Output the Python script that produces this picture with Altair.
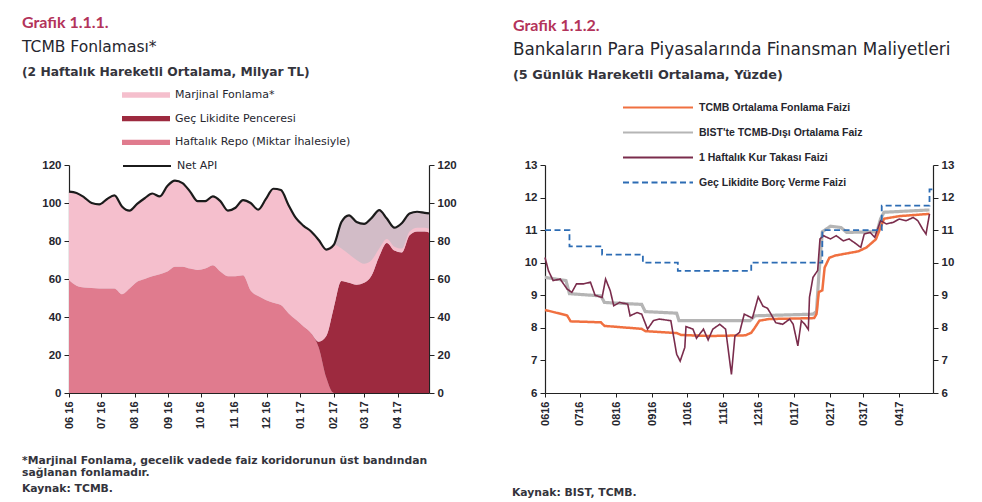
import altair as alt
import pandas as pd

AXFONT = "Liberation Sans"
TXFONT = "DejaVu Sans"
TITLEFONT = "Lato"
INK = "#26262e"
SOFT = "#34343c"
CRIMSON = "#b3335a"

# ---------------- Grafik 1.1.1 ----------------
MARJ = "Marjinal Fonlama*"
GEC = "Geç Likidite Penceresi"
REPO = "Haftalık Repo (Miktar İhalesiyle)"
NET = "Net API"

left_dates = [
    "2016-06-01", "2016-06-08", "2016-06-15", "2016-06-22", "2016-06-29",
    "2016-07-06", "2016-07-13", "2016-07-20", "2016-07-27",
    "2016-08-03", "2016-08-10", "2016-08-17", "2016-08-24", "2016-08-31",
    "2016-09-07", "2016-09-14", "2016-09-21", "2016-09-28",
    "2016-10-05", "2016-10-12", "2016-10-19", "2016-10-26",
    "2016-11-02", "2016-11-09", "2016-11-16", "2016-11-23", "2016-11-30",
    "2016-12-07", "2016-12-14", "2016-12-21", "2016-12-28",
    "2017-01-04", "2017-01-11", "2017-01-18", "2017-01-25",
    "2017-02-01", "2017-02-08", "2017-02-15", "2017-02-22",
    "2017-03-01", "2017-03-08", "2017-03-15", "2017-03-22", "2017-03-29",
    "2017-04-05", "2017-04-12", "2017-04-19", "2017-04-26", "2017-04-30",
]
net_api = [106, 105.3, 103, 100, 99.3, 102, 104, 98.2, 96, 99.5, 102.5, 105, 103.5,
           109, 111.8, 110.5, 106, 101, 101, 103.5, 101, 96, 97.5, 101.5, 100, 96.5,
           102, 107.5, 106.8, 99, 92, 88, 85, 80.5, 75.5, 78, 90, 93.5, 90, 89, 92.2,
           96.2, 91.8, 87, 89.5, 94.5, 95.4, 94.8, 94.5]
repo = [59.5, 56.5, 55.5, 55.2, 55, 55, 55, 52, 55, 58.5, 60, 61.5, 62.5, 64, 66.5,
        66.5, 65.5, 64.8, 65.5, 67.3, 64, 61.5, 61.5, 62, 54, 51, 49, 47.5, 46.3, 42,
        38.5, 35, 31.5, 24, 8, 0, 0, 0, 0, 0, 0, 0, 0, 0, 0, 0, 0, 0, 0]
gec = [0, 0, 0, 0, 0, 0, 0, 0, 0, 0, 0, 0, 0, 0, 0, 0, 0, 0, 0, 0, 0, 0, 0, 0, 0, 0,
       0, 0, 0, 0, 0, 0, 0, 3, 22, 45, 59, 58, 57, 58, 62, 72, 79, 75, 74, 83, 85, 85, 84.5]
marj = [46.5, 48.8, 47.5, 44.8, 44.3, 47, 49, 46.2, 41, 41, 42.5, 43.5, 41, 45, 45.3,
        44, 40.5, 36.2, 35.5, 36.2, 37, 34.5, 36, 39.5, 46, 45.5, 53, 60, 60.5, 57,
        53.5, 53, 53.5, 53.5, 45.5, 33, 17, 15, 13, 10, 8, 4, 2, 2, 2, 2, 2, 2, 2]

area_names = [MARJ, GEC, REPO]
area_colors = ["#f5bfcd", "#9d2a3f", "#e07b8e"]
stack_rank = {REPO: 0, GEC: 1, MARJ: 2}

area_rows = []
for name, vals in [(REPO, repo), (GEC, gec), (MARJ, marj)]:
    for d, v in zip(left_dates, vals):
        area_rows.append({"date": d, "series": name, "value": v, "rank": stack_rank[name]})
area_df = pd.DataFrame(area_rows)
net_df = pd.DataFrame({"date": left_dates, "value": net_api, "series": NET})

# ---------------- Grafik 1.1.2 ----------------
TCMB = "TCMB Ortalama Fonlama Faizi"
BIST = "BIST'te TCMB-Dışı Ortalama Faiz"
SWAP = "1 Haftalık Kur Takası Faizi"
LLW = "Geç Likidite Borç Verme Faizi"

tcmb_dates = ["2016-06-01", "2016-06-10", "2016-06-20", "2016-06-23", "2016-07-19",
              "2016-07-22", "2016-08-23", "2016-08-26", "2016-09-22", "2016-09-26",
              "2016-10-20", "2016-11-20", "2016-11-25", "2016-11-28", "2016-12-02",
              "2016-12-10", "2017-01-18", "2017-01-20", "2017-01-22", "2017-01-25",
              "2017-01-27", "2017-01-31", "2017-02-05", "2017-02-25", "2017-03-04",
              "2017-03-12", "2017-03-16", "2017-03-19", "2017-04-01", "2017-04-27"]
tcmb_vals = [8.55, 8.47, 8.38, 8.2, 8.17, 8.06, 7.97, 7.9, 7.84, 7.78, 7.75, 7.77,
             7.85, 8.0, 8.22, 8.27, 8.3, 8.42, 9.1, 9.15, 9.85, 10.15, 10.22, 10.35,
             10.47, 10.72, 11.08, 11.35, 11.43, 11.5]

bist_dates = ["2016-06-01", "2016-06-19", "2016-06-22", "2016-07-19", "2016-07-22",
              "2016-08-23", "2016-08-26", "2016-09-22", "2016-09-24", "2016-11-24",
              "2016-11-28", "2017-01-17", "2017-01-20", "2017-01-22", "2017-01-25",
              "2017-02-01", "2017-02-10", "2017-02-15", "2017-03-13", "2017-03-16",
              "2017-03-19", "2017-04-27"]
bist_vals = [9.55, 9.45, 9.05, 8.98, 8.78, 8.72, 8.5, 8.45, 8.22, 8.22, 8.37, 8.42,
             8.5, 9.6, 10.95, 11.12, 11.08, 10.93, 10.95, 11.35, 11.55, 11.62]

swap_dates = ["2016-06-01", "2016-06-04", "2016-06-08", "2016-06-14", "2016-06-20",
              "2016-06-24", "2016-06-28", "2016-07-04", "2016-07-10", "2016-07-14",
              "2016-07-20", "2016-07-23", "2016-07-27", "2016-07-30", "2016-08-04",
              "2016-08-11", "2016-08-13", "2016-08-19", "2016-08-23", "2016-08-28",
              "2016-09-02", "2016-09-07", "2016-09-17", "2016-09-22", "2016-09-25",
              "2016-09-29", "2016-09-30", "2016-10-06", "2016-10-09", "2016-10-15",
              "2016-10-19", "2016-10-23", "2016-10-29", "2016-11-03", "2016-11-08",
              "2016-11-11", "2016-11-15", "2016-11-19", "2016-11-26", "2016-12-01",
              "2016-12-05", "2016-12-09", "2016-12-12", "2016-12-16", "2016-12-22",
              "2016-12-28", "2016-12-31", "2017-01-04", "2017-01-07", "2017-01-10",
              "2017-01-13", "2017-01-14", "2017-01-17", "2017-01-21", "2017-01-23",
              "2017-01-26", "2017-02-01", "2017-02-06", "2017-02-12", "2017-02-17",
              "2017-02-23", "2017-02-27", "2017-03-02", "2017-03-07", "2017-03-11",
              "2017-03-16", "2017-03-21", "2017-03-27", "2017-04-01", "2017-04-07",
              "2017-04-13", "2017-04-17", "2017-04-21", "2017-04-24", "2017-04-27"]
swap_vals = [10.16, 9.75, 9.45, 9.5, 9.19, 9.09, 9.35, 9.35, 9.4, 9.0, 8.93, 9.5,
             9.14, 8.68, 8.78, 8.73, 8.37, 8.47, 8.42, 7.96, 8.22, 8.27, 8.22, 7.19,
             6.98, 7.4, 8.04, 7.96, 7.68, 7.96, 7.63, 7.96, 8.11, 7.96, 6.57, 7.75,
             7.86, 8.42, 8.3, 8.95, 8.67, 8.6, 8.42, 8.16, 8.11, 8.27, 8.11, 7.45,
             8.22, 8.11, 7.95, 8.94, 9.55, 9.76, 10.73, 10.83, 10.73, 10.83, 10.67,
             10.73, 10.58, 10.47, 10.88, 10.93, 10.78, 11.29, 11.19, 11.24, 11.34,
             11.29, 11.39, 11.29, 11.04, 10.88, 11.5]

llw_dates = ["2016-06-01", "2016-06-22", "2016-07-20", "2016-08-24", "2016-09-23",
             "2016-11-25", "2017-01-25", "2017-03-17", "2017-04-27", "2017-04-30"]
llw_vals = [11.0, 10.5, 10.25, 10.0, 9.75, 10.0, 11.0, 11.75, 12.25, 12.25]

R_NAMES = [TCMB, BIST, SWAP, LLW]
R_COLORS = ["#f07040", "#b5b5b5", "#7a2c4c", "#2c6cb4"]
R_WIDTHS = [2.5, 3.2, 1.6, 1.8]
R_DASH = [[1, 0], [1, 0], [1, 0], [6, 3.5]]

# ---------------- shared pieces ----------------
X_DOMAIN = [alt.DateTime(year=2016, month=6, date=1, utc=True),
            alt.DateTime(year=2017, month=4, date=30, utc=True)]


def x_enc(fmt):
    return alt.X(
        "date:T",
        scale=alt.Scale(type="utc", domain=X_DOMAIN),
        axis=alt.Axis(labelExpr="utcFormat(datum.value, '%s')" % fmt,
                      tickCount={"interval": "month", "step": 1},
                      labelAngle=270, labelAlign="right", labelBaseline="middle",
                      labelFlush=False, labelOverlap=False, labelPadding=4,
                      tickSize=4, tickColor="#222", domainColor="#222",
                      domainWidth=1.2, grid=False, title=None,
                      labelFont=AXFONT, labelFontSize=11, labelFontWeight="bold",
                      labelColor=INK),
    )


def y_axis(orient, values):
    return alt.Axis(orient=orient, values=values, title=None, grid=False,
                    tickSize=5, tickColor="#222", domainColor="#222", domainWidth=1.2,
                    labelFont=AXFONT, labelFontSize=11.5, labelFontWeight="bold",
                    labelColor=INK, labelPadding=3)


def note(text, x, y, size, font=TXFONT, weight="normal", color=INK):
    return alt.Chart(alt.Data(values=[{}])).mark_text(
        text=text, align="left", baseline="middle", font=font, fontSize=size,
        fontWeight=weight, color=color,
    ).encode(x=alt.value(x), y=alt.value(y))


# ---------------- left panel ----------------
xl = x_enc("%m %y")
ysc_l = alt.Scale(domain=[0, 120], nice=False, zero=True)
yvals_l = [0, 20, 40, 60, 80, 100, 120]

gap = alt.Chart(net_df).mark_area(color="#d2bcc7", interpolate="monotone").encode(
    x=xl, y=alt.Y("value:Q", scale=ysc_l, axis=y_axis("left", yvals_l)))

areas = alt.Chart(area_df).mark_area(interpolate="monotone").encode(
    x=xl,
    y=alt.Y("value:Q", scale=ysc_l, stack="zero", axis=None),
    fill=alt.Fill("series:N", scale=alt.Scale(domain=area_names, range=area_colors),
                  legend=alt.Legend(orient="none", legendX=53, legendY=-76, title=None,
                                    symbolType="M-1,-0.11L1,-0.11L1,0.11L-1,0.11Z",
                                    symbolSize=2304, symbolStrokeWidth=0,
                                    clipHeight=12, rowPadding=11.7, padding=0,
                                    labelFont=TXFONT, labelFontSize=11,
                                    labelColor=INK, labelOffset=5, labelLimit=400)),
    order=alt.Order("rank:Q"),
)

net_line = alt.Chart(net_df).mark_line(strokeWidth=2.2, interpolate="monotone").encode(
    x=xl,
    y=alt.Y("value:Q", scale=ysc_l, axis=y_axis("right", yvals_l)),
    stroke=alt.Stroke("series:N", scale=alt.Scale(domain=[NET], range=["#1b1b1b"]),
                      legend=alt.Legend(orient="none", legendX=53, legendY=-5, title=None,
                                        symbolType="stroke", symbolSize=2304,
                                        symbolStrokeWidth=2, clipHeight=12, padding=0,
                                        labelFont=TXFONT, labelFontSize=11,
                                        labelColor=INK, labelOffset=5, labelLimit=400)),
)

left_texts = [
    note("Grafik 1.1.1.", -47, -142, 16, font=TITLEFONT, weight="bold", color=CRIMSON),
    note("TCMB Fonlaması*", -47, -118, 15.5),
    note("(2 Haftalık Hareketli Ortalama, Milyar TL)", -47, -93, 12.3, weight="bold",
         color=SOFT),
    note("*Marjinal Fonlama, gecelik vadede faiz koridorunun üst bandından", -47, 296,
         10.8, weight="bold", color=SOFT),
    note("sağlanan fonlamadır.", -47, 308, 10.8, weight="bold", color=SOFT),
    note("Kaynak: TCMB.", -47, 324, 10.8, weight="bold", color=SOFT),
]

left = alt.layer(gap, areas, net_line, *left_texts).resolve_axis(
    y="independent").properties(width=360, height=228)

# ---------------- right panel ----------------
xr = x_enc("%m%y")
ysc_r = alt.Scale(domain=[6, 13], nice=False, zero=False)
yvals_r = [6, 7, 8, 9, 10, 11, 12, 13]

r_legend = alt.Legend(orient="none", legendX=77, legendY=-63.5, title=None,
                      symbolType="stroke", symbolSize=4900, symbolStrokeWidth=2,
                      clipHeight=12, rowPadding=13, padding=0, labelFont=AXFONT,
                      labelFontSize=10.5, labelFontWeight="bold", labelColor=INK,
                      labelOffset=5, labelLimit=400)


def r_line(name, dates, vals, width, interp, axis):
    df = pd.DataFrame({"date": dates, "value": vals, "series": name})
    return alt.Chart(df).mark_line(strokeWidth=width, interpolate=interp).encode(
        x=xr,
        y=alt.Y("value:Q", scale=ysc_r, axis=axis),
        stroke=alt.Stroke("series:N", scale=alt.Scale(domain=R_NAMES, range=R_COLORS),
                          legend=r_legend),
        strokeDash=alt.StrokeDash("series:N", scale=alt.Scale(domain=R_NAMES, range=R_DASH),
                                  legend=r_legend),
    )


right_lines = [
    r_line(BIST, bist_dates, bist_vals, R_WIDTHS[1], "linear", y_axis("left", yvals_r)),
    r_line(TCMB, tcmb_dates, tcmb_vals, R_WIDTHS[0], "linear", None),
    r_line(SWAP, swap_dates, swap_vals, R_WIDTHS[2], "linear", None),
    r_line(LLW, llw_dates, llw_vals, R_WIDTHS[3], "step-after", y_axis("right", yvals_r)),
]

right_texts = [
    note("Grafik 1.1.2.", -32, -139.5, 16, font=TITLEFONT, weight="bold", color=CRIMSON),
    note("Bankaların Para Piyasalarında Finansman Maliyetleri", -32, -115.5, 16.8),
    note("(5 Günlük Hareketli Ortalama, Yüzde)", -32, -90.5, 12.8, weight="bold",
         color=SOFT),
    note("Kaynak: BIST, TCMB.", -33, 327.5, 10.8, weight="bold", color=SOFT),
]

right = alt.layer(*right_lines, *right_texts).resolve_axis(
    y="independent").properties(width=388, height=228)

chart = alt.hconcat(left, right, spacing=116, bounds="flush").resolve_scale(
    stroke="independent", strokeDash="independent", fill="independent"
).resolve_legend(
    stroke="independent", strokeDash="independent", fill="independent"
).properties(
    padding={"left": 22, "top": 15, "right": 5, "bottom": 5},
    background="white",
).configure_view(stroke=None)

chart.save("out.html", embed_options={"renderer": "svg", "actions": False})
